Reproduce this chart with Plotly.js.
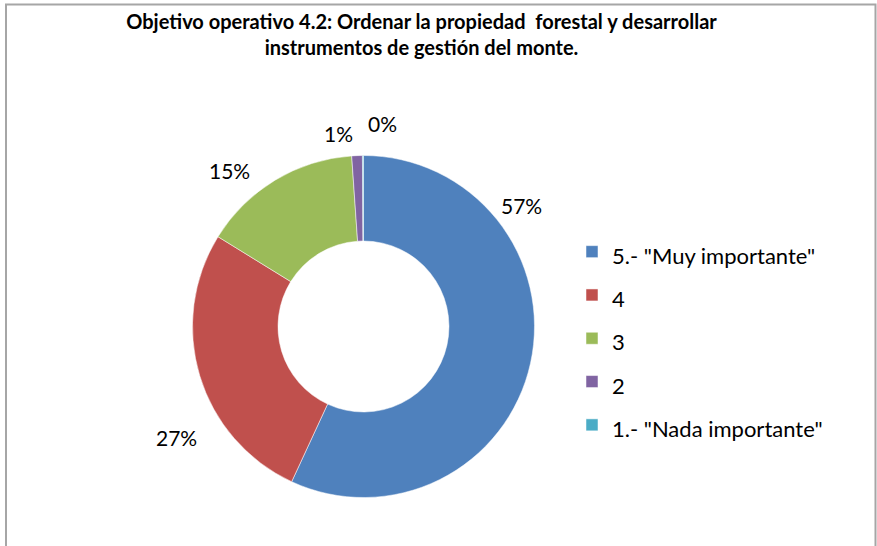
<!DOCTYPE html>
<html>
<head>
<meta charset="utf-8">
<script src="https://cdn.plot.ly/plotly-3.0.1.min.js"></script>
<style>html,body{margin:0;padding:0;background:#fff;}#chart{width:877px;height:546px;}</style>
</head>
<body>
<div id="chart"></div>
<script>
const categories = ['5.- "Muy importante"', '4', '3', '2', '1.- "Nada importante"'];
const values = [56.9, 26.9, 15.1, 1.0, 0.1];
const colors = ['#4F81BD', '#C0504D', '#9BBB59', '#8064A2', '#4BACC6'];
const titleText = 'Objetivo operativo 4.2: Ordenar la propiedad  forestal y desarrollar<br>instrumentos de gestión del monte.';
// label anchor positions (paper coords), Excel-style best fit placement
const labelPos = [[521, 205], [176, 437], [229, 170], [338, 133], [382, 124]];

const W = 877, H = 546;
const total = values.reduce((a, b) => a + b, 0);
const annotations = values.map((v, i) => ({
  x: labelPos[i][0] / W, y: 1 - labelPos[i][1] / H, xref: 'paper', yref: 'paper',
  text: Math.round(v / total * 100) + '%', showarrow: false,
  font: {family: 'Lato, sans-serif', size: 21, color: '#000'}, xanchor: 'center', yanchor: 'middle'
}));

const trace = {
  type: 'pie',
  labels: categories.map(c => '<span style="font-size:22px">' + c + '</span>'),
  values: values, hole: 0.5,
  sort: false, direction: 'clockwise', rotation: 0,
  marker: {colors: colors, line: {color: '#fff', width: 0.5}},
  textinfo: 'none', hoverinfo: 'label+percent',
  domain: {x: [192.5 / W, 534.5 / W], y: [1 - 497.5 / H, 1 - 155.5 / H]}
};

const layout = {
  width: W, height: H,
  margin: {l: 0, r: 0, t: 0, b: 0},
  paper_bgcolor: '#fff',
  title: {text: titleText, x: 421.5 / W, xanchor: 'center', y: 1 - 29 / H, yanchor: 'top',
    font: {family: 'Lato, sans-serif', size: 20, color: '#000', weight: 'bold'}},
  showlegend: true,
  legend: {x: 572 / W, y: 1 - 225 / H, xanchor: 'left', yanchor: 'top',
    font: {family: 'Lato, sans-serif', size: 31, color: '#000'}, bgcolor: 'rgba(0,0,0,0)'},
  annotations: annotations,
  shapes: [{type: 'rect', xref: 'paper', yref: 'paper', x0: 6 / W, x1: 875.5 / W, y0: -0.05, y1: 1 - 4.5 / H,
    line: {color: '#A6A6A6', width: 2}, fillcolor: 'rgba(0,0,0,0)'}]
};

Plotly.newPlot('chart', [trace], layout, {displayModeBar: false, staticPlot: true});
</script>
</body>
</html>
